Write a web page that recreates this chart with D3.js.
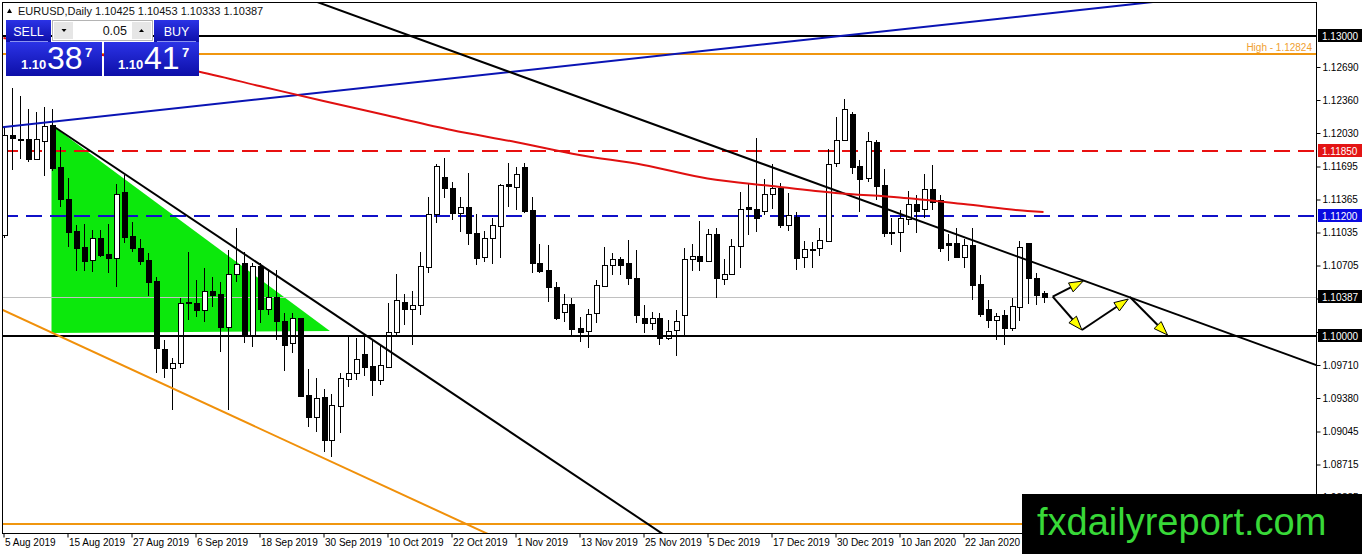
<!DOCTYPE html>
<html>
<head>
<meta charset="utf-8">
<script src="https://cdn.jsdelivr.net/npm/d3@7"></script>
<style>
    html, body { margin: 0; padding: 0; background: #fff; }
    svg { display: block; font-family: "Liberation Sans", Arial, sans-serif; }
</style>
</head>
<body>
<script>
// EURUSD daily, one value per bar (5 Aug 2019 -> last bar)
const opens = [1.1101, 1.1201, 1.1197, 1.1197, 1.1177, 1.1195, 1.1211, 1.1169, 1.1137, 1.1105,
    1.1089, 1.1076, 1.1098, 1.1082, 1.1078, 1.1144, 1.1100, 1.1088, 1.1076, 1.1055,
    1.0987, 1.0968, 1.0973, 1.1034, 1.1033, 1.1026, 1.1045, 1.1042, 1.1009, 1.1062,
    1.1073, 1.1001, 1.1070, 1.1027, 1.1039, 1.1015, 1.0993, 1.1018, 1.0941, 1.0919,
    1.0939, 1.0896, 1.0930, 1.0957, 1.0963, 1.0982, 1.0970, 1.0956, 1.0969, 1.1004,
    1.1034, 1.1027, 1.1031, 1.1069, 1.1122, 1.1159, 1.1148, 1.1123, 1.1129, 1.1103,
    1.1079, 1.1098, 1.1110, 1.1152, 1.1149, 1.1169, 1.1126, 1.1073, 1.1066, 1.1049,
    1.1024, 1.1032, 1.1008, 1.1005, 1.1023, 1.1050, 1.1071, 1.1077, 1.1073, 1.1058,
    1.1018, 1.1013, 1.1018, 1.0998, 1.1006, 1.1021, 1.1077, 1.1080, 1.1075, 1.1102,
    1.1057, 1.1062, 1.1090, 1.1129, 1.1127, 1.1125, 1.1142, 1.1148, 1.1111, 1.1119,
    1.1079, 1.1087, 1.1088, 1.1095, 1.1173, 1.1196, 1.1222, 1.1170, 1.1158, 1.1194,
    1.1151, 1.1104, 1.1104, 1.1117, 1.1132, 1.1127, 1.1147, 1.1136, 1.1093, 1.1093,
    1.1079, 1.1091, 1.1052, 1.1027, 1.1016, 1.1021, 1.1008, 1.1029, 1.1093, 1.1058,
    1.10425]
const highs = [1.1209, 1.1248, 1.1240, 1.1227, 1.1224, 1.1229, 1.1227, 1.1189, 1.1158, 1.1111,
    1.1112, 1.1106, 1.1106, 1.1112, 1.1152, 1.1161, 1.1114, 1.1097, 1.1083, 1.1059,
    1.0996, 1.0978, 1.1038, 1.1084, 1.1056, 1.1068, 1.1059, 1.1054, 1.1086, 1.1108,
    1.1084, 1.1073, 1.1073, 1.1067, 1.1066, 1.1023, 1.1023, 1.1018, 1.0967, 1.0958,
    1.0947, 1.0942, 1.0963, 1.0999, 1.0998, 1.0999, 1.0996, 1.0991, 1.1033, 1.1062,
    1.1042, 1.1045, 1.1084, 1.1139, 1.1172, 1.1178, 1.1154, 1.1139, 1.1163, 1.1122,
    1.1105, 1.1118, 1.1152, 1.1173, 1.1169, 1.1173, 1.1139, 1.1092, 1.1091, 1.1054,
    1.1042, 1.1038, 1.1019, 1.1027, 1.1056, 1.1089, 1.1083, 1.1079, 1.1096, 1.1086,
    1.1031, 1.1024, 1.1023, 1.1016, 1.1026, 1.1088, 1.1092, 1.1115, 1.1107, 1.1108,
    1.1077, 1.1097, 1.1144, 1.1152, 1.1198, 1.1157, 1.1172, 1.1153, 1.1143, 1.1124,
    1.1095, 1.1094, 1.1108, 1.1187, 1.1219, 1.1237, 1.1224, 1.1176, 1.1204, 1.1196,
    1.1167, 1.1118, 1.1126, 1.1145, 1.1141, 1.1162, 1.1171, 1.1141, 1.1102, 1.1108,
    1.1097, 1.1108, 1.1061, 1.1036, 1.1023, 1.1026, 1.1038, 1.1095, 1.1093, 1.1063,
    1.10453]
const lows = [1.1098, 1.1166, 1.1177, 1.1174, 1.1176, 1.1160, 1.1165, 1.1129, 1.1089, 1.1065,
    1.1065, 1.1064, 1.1079, 1.1063, 1.1049, 1.1093, 1.1084, 1.1071, 1.1040, 1.0963,
    1.0958, 1.0926, 1.0968, 1.1016, 1.1019, 1.1014, 1.1029, 1.0984, 1.0926, 1.1054,
    1.0993, 1.0989, 1.1013, 1.1021, 1.0996, 1.0965, 1.0983, 1.0939, 1.0909, 1.0904,
    1.0884, 1.0879, 1.0903, 1.0949, 1.0956, 1.0960, 1.0940, 1.0951, 1.0969, 1.1001,
    1.1011, 1.0991, 1.1021, 1.1063, 1.1113, 1.1138, 1.1116, 1.1104, 1.1091, 1.1071,
    1.1074, 1.1072, 1.1078, 1.1129, 1.1126, 1.1123, 1.1063, 1.1063, 1.1034, 1.1016,
    1.1014, 1.1000, 1.0994, 1.0988, 1.1013, 1.1049, 1.1061, 1.1061, 1.1051, 1.1013,
    1.1003, 1.1006, 1.0991, 1.0996, 1.0980, 1.1000, 1.1065, 1.1065, 1.1075, 1.1038,
    1.1051, 1.1061, 1.1068, 1.1101, 1.1104, 1.1121, 1.1127, 1.1108, 1.1105, 1.1066,
    1.1068, 1.1068, 1.1080, 1.1094, 1.1169, 1.1195, 1.1162, 1.1124, 1.1154, 1.1136,
    1.1099, 1.1091, 1.1084, 1.1111, 1.1103, 1.1118, 1.1126, 1.1084, 1.1075, 1.1078,
    1.1068, 1.1036, 1.1019, 1.1008, 1.0996, 1.0991, 1.1005, 1.1015, 1.1032, 1.1031,
    1.10333]
const closes = [1.1201, 1.1198, 1.1196, 1.1177, 1.1197, 1.1210, 1.1168, 1.1137, 1.1104, 1.1088,
    1.1075, 1.1098, 1.1081, 1.1078, 1.1142, 1.1099, 1.1088, 1.1075, 1.1054, 1.0988,
    1.0968, 1.0973, 1.1033, 1.1033, 1.1026, 1.1045, 1.1041, 1.1009, 1.1062, 1.1072,
    1.1001, 1.1070, 1.1027, 1.1039, 1.1015, 1.0991, 1.1018, 1.0940, 1.0919, 1.0938,
    1.0896, 1.0931, 1.0958, 1.0963, 1.0977, 1.0969, 1.0956, 1.0971, 1.1004, 1.1036,
    1.1027, 1.1031, 1.1070, 1.1122, 1.1170, 1.1148, 1.1123, 1.1129, 1.1103, 1.1078,
    1.1098, 1.1111, 1.1151, 1.1150, 1.1162, 1.1125, 1.1073, 1.1065, 1.1049, 1.1018,
    1.1032, 1.1007, 1.1004, 1.1022, 1.1051, 1.1071, 1.1077, 1.1071, 1.1058, 1.1021,
    1.1013, 1.1018, 1.0998, 1.1005, 1.1015, 1.1077, 1.1080, 1.1075, 1.1102, 1.1058,
    1.1062, 1.1090, 1.1127, 1.1127, 1.1118, 1.1142, 1.1148, 1.1111, 1.1121, 1.1078,
    1.1087, 1.1086, 1.1096, 1.1172, 1.1196, 1.1227, 1.1169, 1.1157, 1.1195, 1.1150,
    1.1103, 1.1103, 1.1118, 1.1132, 1.1125, 1.1147, 1.1134, 1.1088, 1.1091, 1.1079,
    1.1091, 1.1051, 1.1022, 1.1016, 1.1020, 1.1008, 1.1030, 1.1089, 1.1058, 1.1041,
    1.10387]

// moving average read every 8 bars
const maBars = [0, 8, 16, 24, 32, 40, 48, 56, 64, 72, 80, 88, 96, 104, 112, 120, 128, 130]
const maValues = [1.1298, 1.1287, 1.1276, 1.1265, 1.1250, 1.1235, 1.12205, 1.1206, 1.1194, 1.1181,
    1.1171, 1.11575, 1.1150, 1.1143, 1.11385, 1.1132, 1.1125, 1.1124]

const dateBars = [0, 8, 16, 24, 32, 40, 48, 56, 64, 72, 80, 88, 96, 104, 112, 120]
const dateLabels = ['5 Aug 2019', '15 Aug 2019', '27 Aug 2019', '6 Sep 2019', '18 Sep 2019', '30 Sep 2019',
    '10 Oct 2019', '22 Oct 2019', '1 Nov 2019', '13 Nov 2019', '25 Nov 2019', '5 Dec 2019',
    '17 Dec 2019', '30 Dec 2019', '10 Jan 2020', '22 Jan 2020']
const priceTicks = [1.12690, 1.12360, 1.12030, 1.11695, 1.11365, 1.11035, 1.10705, 1.10375,
    1.10040, 1.09710, 1.09380, 1.09045, 1.08715, 1.08385]
// tick labels that sit under a price tag
const hiddenTicks = [1.10375, 1.10040]

// horizontal levels
const levelPrices = [1.13000, 1.11850, 1.11200, 1.10387, 1.10000]
const levelColors = ['#000000', '#e31414', '#0a0ae0', '#000000', '#000000']
const highPrice = 1.12824
const lowOrangePrice = 1.0812

// trend lines: [bar, price] pairs
const blueLine = [[0, 1.1209], [100, 1.1296]]
const blackLineA = [[40, 1.13317], [120, 1.10991]]
const blackLineB = [[6, 1.1211], [40, 1.1029]]
const orangeLine = [[0, 1.10256], [40, 1.08779]]
const triangle = [[6, 1.1211], [6, 1.1003], [40.8, 1.1005]]
const arrows = [
    [[131.15, 1.10393], [134.97, 1.1055]],
    [[131.15, 1.10393], [134.8, 1.1006]],
    [[134.8, 1.1006], [140.6, 1.1037]],
    [[140.8, 1.1039], [145.5, 1.1001]]
]

const width = 1362, height = 554
const plot = { left: 2, top: 2, right: 1316, bottom: 533 }

const x = d3.scaleLinear().domain([0, 130]).range([3.5, 1043.5])
const y = d3.scaleLinear().domain([1.0803, 1.1334]).range([plot.bottom, plot.top])

const svg = d3.select('body').append('svg')
    .attr('width', width)
    .attr('height', height)

svg.append('rect').attr('width', width).attr('height', height).attr('fill', '#fff')

const defs = svg.append('defs')
defs.append('clipPath').attr('id', 'plotClip')
    .append('rect')
    .attr('x', plot.left).attr('y', plot.top)
    .attr('width', plot.right - plot.left).attr('height', plot.bottom - plot.top)

const blueGrad = defs.append('linearGradient').attr('id', 'blueGrad')
    .attr('x1', 0).attr('y1', 0).attr('x2', 0).attr('y2', 1)
blueGrad.append('stop').attr('offset', '0%').attr('stop-color', '#2b33e6')
blueGrad.append('stop').attr('offset', '100%').attr('stop-color', '#0d0fa8')

const chart = svg.append('g').attr('clip-path', 'url(#plotClip)')

// green triangle in background
chart.append('polygon')
    .attr('points', triangle.map(d => [x(d[0]), y(d[1])].join(',')).join(' '))
    .attr('fill', '#0ce80c')

// horizontal levels
function hLine(p, color, w, dash) {
    const yy = Math.round(y(p)) + (w % 2 ? 0.5 : 0)
    const l = chart.append('line')
        .attr('x1', plot.left).attr('x2', plot.right)
        .attr('y1', yy).attr('y2', yy)
        .attr('stroke', color).attr('stroke-width', w)
        .attr('shape-rendering', 'crispEdges')
    if (dash) l.attr('stroke-dasharray', dash)
    return l
}
hLine(levelPrices[3], '#c0c0c0', 1)
hLine(levelPrices[1], '#e81010', 2, '16,8')
hLine(levelPrices[2], '#1010c8', 2, '16,8')
hLine(highPrice, '#f0960f', 2)
hLine(lowOrangePrice, '#f0960f', 2)
hLine(levelPrices[0], '#000', 2)

// candles
const bars = d3.range(opens.length)
const candle = chart.selectAll('.candle')
    .data(bars)
    .enter().append('g')
    .attr('class', 'candle')
    .attr('shape-rendering', 'crispEdges')

candle.append('line')
    .attr('x1', d => Math.round(x(d)) + 0.5)
    .attr('x2', d => Math.round(x(d)) + 0.5)
    .attr('y1', d => y(highs[d]))
    .attr('y2', d => y(lows[d]))
    .attr('stroke', '#000')

candle.append('rect')
    .attr('x', d => Math.round(x(d)) - 2)
    .attr('y', d => y(Math.max(opens[d], closes[d])))
    .attr('width', 5)
    .attr('height', d => Math.max(1, Math.abs(y(opens[d]) - y(closes[d]))))
    .attr('fill', d => closes[d] >= opens[d] ? '#fff' : '#000')
    .attr('stroke', '#000')

// black round level drawn over candles
hLine(levelPrices[4], '#000', 2)

// trend lines
function trend(pts, color, w, rayOnly) {
    const [a, b] = pts
    const slope = (b[1] - a[1]) / (b[0] - a[0])
    const startBar = rayOnly ? a[0] : -20
    const endBar = 220
    chart.append('line')
        .attr('x1', x(startBar))
        .attr('y1', y(a[1] + slope * (startBar - a[0])))
        .attr('x2', x(endBar))
        .attr('y2', y(a[1] + slope * (endBar - a[0])))
        .attr('stroke', color)
        .attr('stroke-width', w)
}
trend(orangeLine, '#f0900a', 2, false)
trend(blueLine, '#0a14b4', 2, false)
trend(blackLineA, '#000', 2, false)
trend(blackLineB, '#000', 2, true)

// moving average
const maLine = d3.line()
    .x((d, i) => x(maBars[i]))
    .y(d => y(d))
    .curve(d3.curveMonotoneX)
chart.append('path')
    .attr('d', maLine(maValues))
    .attr('fill', 'none')
    .attr('stroke', '#e01010')
    .attr('stroke-width', 2)

// arrows
arrows.forEach(seg => {
    const x1 = x(seg[0][0]), y1 = y(seg[0][1])
    const x2 = x(seg[1][0]), y2 = y(seg[1][1])
    const ang = Math.atan2(y2 - y1, x2 - x1)
    const len = 14, half = 5
    const bx = x2 - len * Math.cos(ang), by = y2 - len * Math.sin(ang)
    chart.append('line')
        .attr('x1', x1).attr('y1', y1).attr('x2', bx).attr('y2', by)
        .attr('stroke', '#000').attr('stroke-width', 2)
    const p = [
        [x2, y2],
        [bx + half * Math.sin(ang), by - half * Math.cos(ang)],
        [bx - half * Math.sin(ang), by + half * Math.cos(ang)]
    ]
    chart.append('polygon')
        .attr('points', p.map(q => q.join(',')).join(' '))
        .attr('fill', '#ffff00')
        .attr('stroke', '#000')
        .attr('stroke-width', 1)
})

// orange high label
svg.append('text')
    .attr('x', plot.right - 4)
    .attr('y', y(highPrice) - 3)
    .attr('text-anchor', 'end')
    .style('font-size', '10px')
    .style('fill', '#f0a030')
    .text('High - ' + highPrice.toFixed(5))

// frame
svg.append('rect')
    .attr('x', plot.left + 0.5).attr('y', plot.top + 0.5)
    .attr('width', plot.right - plot.left).attr('height', plot.bottom - plot.top)
    .attr('fill', 'none').attr('stroke', '#000')
    .attr('shape-rendering', 'crispEdges')

// price axis
const yAxis = d3.axisRight(y)
    .tickValues(priceTicks)
    .tickFormat(d => hiddenTicks.includes(d) ? '' : d3.format('.5f')(d))
    .tickSize(4)
    .tickSizeOuter(0)
const yg = svg.append('g')
    .attr('transform', 'translate(' + (plot.right + 0.5) + ',0)')
    .call(yAxis)
yg.select('.domain').remove()
yg.selectAll('text').attr('x', 6).style('font-size', '10px').style('font-family', '"Liberation Sans", Arial, sans-serif').style('fill', '#000')
yg.selectAll('line').attr('stroke', '#000')

// level tags on the axis
levelPrices.forEach((p, i) => {
    const tag = svg.append('g').attr('transform', 'translate(' + (plot.right + 2) + ',' + Math.round(y(p)) + ')')
    tag.append('rect')
        .attr('x', 0).attr('y', -7)
        .attr('width', 44).attr('height', 13)
        .attr('fill', levelColors[i])
    tag.append('text')
        .attr('x', 4).attr('y', 3.5)
        .style('font-size', '10px')
        .style('fill', '#fff')
        .text(p.toFixed(5))
})

// date axis
const xAxis = d3.axisBottom(x)
    .tickValues(dateBars)
    .tickFormat((d, i) => dateLabels[i])
    .tickSize(4)
    .tickSizeOuter(0)
const xg = svg.append('g')
    .attr('transform', 'translate(0,' + (plot.bottom + 0.5) + ')')
    .call(xAxis)
xg.select('.domain').remove()
xg.selectAll('text')
    .attr('text-anchor', 'start')
    .attr('x', 1)
    .attr('y', 5)
    .style('font-size', '10px')
    .style('font-family', '"Liberation Sans", Arial, sans-serif')
    .style('fill', '#000')
xg.selectAll('line').attr('stroke', '#000')

// header
svg.append('polygon')
    .attr('points', '7,13 12,13 9.5,8.5')
    .attr('fill', '#000')
svg.append('text')
    .attr('x', 18).attr('y', 15)
    .style('font-size', '11px')
    .style('fill', '#111')
    .text('EURUSD,Daily  1.10425 1.10453 1.10333 1.10387')

// one click trading panel
const panel = svg.append('g')
panel.append('rect').attr('x', 6).attr('y', 20).attr('width', 45).attr('height', 22).attr('fill', 'url(#blueGrad)')
panel.append('rect').attr('x', 154).attr('y', 20).attr('width', 45).attr('height', 22).attr('fill', 'url(#blueGrad)')
panel.append('line').attr('x1', 10).attr('x2', 48).attr('y1', 41.5).attr('y2', 41.5).attr('stroke', '#8a93f0')
panel.append('line').attr('x1', 157).attr('x2', 196).attr('y1', 41.5).attr('y2', 41.5).attr('stroke', '#8a93f0')
panel.append('rect').attr('x', 6).attr('y', 42).attr('width', 96).attr('height', 34).attr('fill', 'url(#blueGrad)')
panel.append('rect').attr('x', 104).attr('y', 42).attr('width', 95).attr('height', 34).attr('fill', 'url(#blueGrad)')
panel.append('rect').attr('x', 52.5).attr('y', 20.5).attr('width', 100).attr('height', 20)
    .attr('fill', '#fff').attr('stroke', '#b4b4b4')
panel.append('rect').attr('x', 54).attr('y', 22).attr('width', 19).attr('height', 17).attr('fill', '#e6e6e6')
panel.append('rect').attr('x', 132).attr('y', 22).attr('width', 19).attr('height', 17).attr('fill', '#e6e6e6')
panel.append('polygon').attr('points', '61.5,29 66.5,29 64,32').attr('fill', '#000')
panel.append('polygon').attr('points', '139,32 144,32 141.5,29').attr('fill', '#000')
panel.append('text').attr('x', 127).attr('y', 35).attr('text-anchor', 'end')
    .style('font-size', '12.5px').style('fill', '#111').text('0.05')

const white = el => el.style('fill', '#fff')
white(panel.append('text').attr('x', 28.5).attr('y', 36).attr('text-anchor', 'middle').style('font-size', '12.5px').text('SELL'))
white(panel.append('text').attr('x', 176.5).attr('y', 36).attr('text-anchor', 'middle').style('font-size', '12.5px').text('BUY'))
white(panel.append('text').attr('x', 21).attr('y', 69).style('font-size', '13px').style('font-weight', 'bold').text('1.10'))
white(panel.append('text').attr('x', 47).attr('y', 69).style('font-size', '32px').text('38'))
white(panel.append('text').attr('x', 85).attr('y', 57).style('font-size', '13px').style('font-weight', 'bold').text('7'))
white(panel.append('text').attr('x', 118).attr('y', 69).style('font-size', '13px').style('font-weight', 'bold').text('1.10'))
white(panel.append('text').attr('x', 144).attr('y', 69).style('font-size', '32px').text('41'))
white(panel.append('text').attr('x', 182).attr('y', 57).style('font-size', '13px').style('font-weight', 'bold').text('7'))

// watermark
svg.append('rect')
    .attr('x', 1022).attr('y', 494)
    .attr('width', 340).attr('height', 60)
    .attr('fill', '#000')
svg.append('text')
    .attr('x', 1037).attr('y', 535)
    .style('font-size', '38px')
    .style('fill', '#38d838')
    .text('fxdailyreport.com')
</script>
</body>
</html>
